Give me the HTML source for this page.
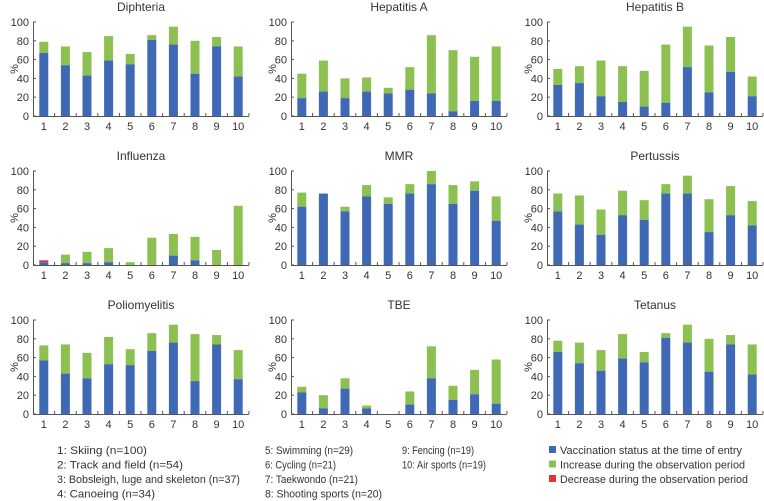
<!DOCTYPE html>
<html><head><meta charset="utf-8"><style>
html,body{margin:0;padding:0;background:#fff;}
svg{display:block;font-family:"Liberation Sans",sans-serif;}
</style></head><body>
<svg id="c" width="764" height="501"></svg>
<script>
const categories = ["1","2","3","4","5","6","7","8","9","10"];
const yTicks = [0,20,40,60,80,100];
const titles = ["Diphteria","Hepatitis A","Hepatitis B","Influenza","MMR","Pertussis","Poliomyelitis","TBE","Tetanus"];
const diphBase = [67,54,43,59,55,81,76,45,74,42];
const diphTotal = [79,74,68,85,66,86,95,80,84,74];
const hepABase = [19,26,19,26,24,28,24,5,16,16];
const hepATotal = [45,59,40,41,30,52,86,70,63,74];
const hepBBase = [33,35,21,15,10,14,52,25,47,21];
const hepBTotal = [50,53,59,53,48,76,95,75,84,42];
const fluBase = [3,2,2,3,0,0,10,5,0,0];
const fluTotal = [3,11,14,18,3,29,33,30,16,63];
const fluDecrease = [2,0,0,0,0,0,0,0,0,0];
const mmrBase = [62,76,57,73,65,76,86,65,79,47];
const mmrTotal = [77,76,62,85,72,86,100,85,89,73];
const pertBase = [57,43,32,53,48,76,76,35,53,42];
const pertTotal = [76,74,59,79,69,86,95,70,84,68];
const polioBase = [57,43,38,53,52,67,76,35,74,37];
const polioTotal = [73,74,65,82,69,86,95,85,84,68];
const tbeBase = [23,6,27,6,0,10,38,15,21,11];
const tbeTotal = [29,20,38,9,0,24,72,30,47,58];
const tetBase = [66,54,46,59,55,81,76,45,74,42];
const tetTotal = [78,76,68,85,66,86,95,80,84,74];
const zeros = [0,0,0,0,0,0,0,0,0,0];
const bases = [diphBase,hepABase,hepBBase,fluBase,mmrBase,pertBase,polioBase,tbeBase,tetBase];
const totals = [diphTotal,hepATotal,hepBTotal,fluTotal,mmrTotal,pertTotal,polioTotal,tbeTotal,tetTotal];
const decreases = [zeros,zeros,zeros,fluDecrease,zeros,zeros,zeros,zeros,zeros];

const NS="http://www.w3.org/2000/svg";
const svg=document.getElementById('c');
function mk(tag,attrs,parent,text){const e=document.createElementNS(NS,tag);for(const k in attrs)e.setAttribute(k,attrs[k]);if(text!==undefined)e.textContent=text;(parent||svg).appendChild(e);return e;}
const colX=[33,291,547], rowY0=[116,265,414], PW=216, PH=94;
const BLUE="#3f69b5", GREEN="#8cc152", RED="#e8303a";
for(let p=0;p<9;p++){
  const x0=colX[p%3], y0=rowY0[Math.floor(p/3)];
  const g=mk('g',{});
  
  
  const yS=v=>y0-v/100*PH;
  const slot=PW/categories.length;
  const xC=i=>x0+slot*(i+0.5);
  const t=mk('text',{x:x0+PW/2,y:y0-PH-11,'text-anchor':'middle','font-size':12,fill:'#333'},g,titles[p]);
  
  
  const yl=mk('text',{x:0,y:0,'text-anchor':'middle','font-size':11,fill:'#333',transform:`translate(${x0-15},${y0-PH/2}) rotate(-90)`},g,'%');
  
  
  yTicks.forEach(v=>{
    const lab=mk('text',{x:x0-4,y:yS(v)+4,'text-anchor':'end','font-size':11,fill:'#333'},g,String(v));
    
    
    mk('line',{x1:x0,x2:x0+3,y1:yS(v),y2:yS(v),stroke:'#555','stroke-width':1},g);
  });
  categories.forEach((c,i)=>{
    const bw=9, bx=xC(i)-bw/2;
    const b=bases[p][i], tot=totals[p][i], d=decreases[p][i];
    if(tot>b){const r=mk('rect',{x:bx,y:yS(tot),width:bw,height:yS(b)-yS(tot),fill:GREEN},g);
      
      }
    if(b>0){const r=mk('rect',{x:bx,y:yS(b),width:bw,height:y0-yS(b),fill:BLUE},g);
      
      }
    if(d>0){const top=Math.max(b,tot);const r=mk('rect',{x:bx,y:yS(top+d),width:bw,height:yS(top)-yS(top+d),fill:RED},g);
      
      }
    const lab=mk('text',{x:xC(i),y:y0+14,'text-anchor':'middle','font-size':11,fill:'#333'},g,c);
    
    
    if(i>0)mk('line',{x1:x0+slot*i,x2:x0+slot*i,y1:y0,y2:y0-3,stroke:'#555','stroke-width':1},g);
  });
  mk('line',{x1:x0+0.5,x2:x0+0.5,y1:y0-PH,y2:y0,stroke:'#555','stroke-width':1},g);
  mk('line',{x1:x0,x2:x0+PW,y1:y0+0.5,y2:y0+0.5,stroke:'#555','stroke-width':1},g);
  mk('line',{x1:x0+PW,x2:x0+PW,y1:y0,y2:y0-3,stroke:'#555','stroke-width':1},g);
}
const legCats=[[57,147,"1: Skiing (n=100)"],[57,183,"2: Track and field (n=54)"],[57,240,"3: Bobsleigh, luge and skeleton (n=37)"],[57,155,"4: Canoeing (n=34)"],
 [265,353,"5: Swimming (n=29)"],[265,336,"6: Cycling (n=21)"],[265,358,"7: Taekwondo (n=21)"],[265,382,"8: Shooting sports (n=20)"],
 [402,474,"9: Fencing (n=19)"],[402,486,"10: Air sports (n=19)"]];
const rowYs=[454,468.5,483,497.5];
let k=0;
[4,4,2].forEach(n=>{for(let j=0;j<n;j++){const [x,xe,s]=legCats[k++];
  const t=mk('text',{x:x,y:rowYs[j],'font-size':11,fill:'#333',textLength:xe-x,lengthAdjust:'spacingAndGlyphs'},svg,s);
  
  }});
const legend=[[BLUE,742,"Vaccination status at the time of entry"],[GREEN,745,"Increase during the observation period"],[RED,748,"Decrease during the observation period"]];
legend.forEach((l,j)=>{
  const g=mk('g',{});
  
  
  mk('rect',{x:549,y:rowYs[j]-8,width:7,height:7,fill:l[0]},g);
  mk('text',{x:560,y:rowYs[j],'font-size':11,fill:'#333',textLength:l[1]-560,lengthAdjust:'spacingAndGlyphs'},g,l[2]);
});
</script>
</body></html>
